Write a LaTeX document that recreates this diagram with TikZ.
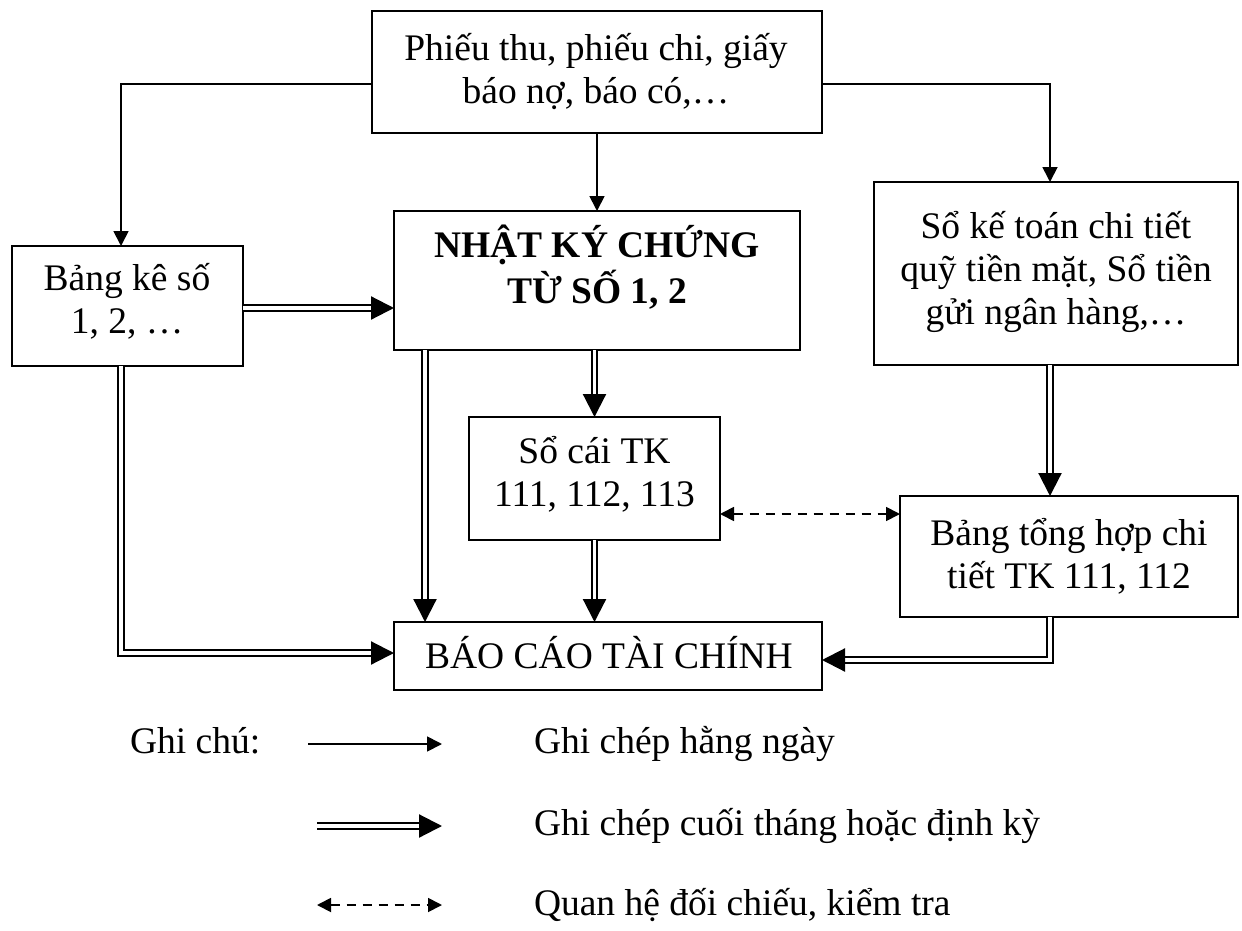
\documentclass[tikz,border=0pt]{standalone}
\usepackage{fontspec}
\setmainfont{Liberation Serif}
\usetikzlibrary{arrows.meta}
\newcommand{\mylines}[1]{\begin{tabular}[t]{@{}c@{}}#1\end{tabular}}
\begin{document}
\begin{tikzpicture}[x=1pt,y=1pt,
  box/.style={draw, rectangle, line width=2.6pt, inner sep=0pt, outer sep=0pt},
  txt/.style={inner sep=0pt, outer sep=0pt, font=\fontsize{37.5}{43}\selectfont},
  sline/.style={line width=1.8pt, -{Triangle[length=15pt,width=15pt]}},
  dline/.style={double=white, line width=2.2pt, double distance=3.4pt, -{Triangle[length=23pt,width=23pt]}},
  dashline/.style={line width=1.8pt, dash pattern=on 9pt off 7pt, {Triangle[length=14pt,width=14pt]}-{Triangle[length=14pt,width=14pt]}}
]
\useasboundingbox (0,0) rectangle (1242,-931);

% boxes
\node[box, minimum width=450pt, minimum height=122pt] (src) at (597,-72) {};
\node[box, minimum width=231pt, minimum height=120pt] (bk) at (127.5,-306) {};
\node[box, minimum width=406pt, minimum height=139pt] (nkct) at (597,-280.5) {};
\node[box, minimum width=364pt, minimum height=183pt] (sktct) at (1056,-273.5) {};
\node[box, minimum width=251pt, minimum height=123pt] (socai) at (594.5,-478.5) {};
\node[box, minimum width=338pt, minimum height=121pt] (btm) at (1069,-556.5) {};
\node[box, minimum width=428pt, minimum height=68pt] (bctc) at (608,-656) {};

% texts
\node[txt, anchor=base] (srcT) at (596,-61) {\mylines{Phiếu thu, phiếu chi, giấy\\báo nợ, báo có,…}};
\node[txt, anchor=base] (bkT) at (127,-290) {\mylines{Bảng kê số\\1, 2, …}};
\node[txt, anchor=base] (nkctT) at (597,-257) {\mylines{\bfseries NHẬT KÝ CHỨNG\\\bfseries TỪ SỐ 1, 2}};
\node[txt, anchor=base] (sktctT) at (1056,-238) {\mylines{Sổ kế toán chi tiết\\quỹ tiền mặt, Sổ tiền\\gửi ngân hàng,…}};
\node[txt, anchor=base] (socaiT) at (594.5,-463) {\mylines{Sổ cái TK\\111, 112, 113}};
\node[txt, anchor=base] (btmT) at (1069,-545) {\mylines{Bảng tổng hợp chi\\tiết TK 111, 112}};
\node[txt, anchor=base] (bctcT) at (609,-668) {BÁO CÁO TÀI CHÍNH};

% helper coordinates
\coordinate (cL) at (425,0);
\coordinate (cR) at (1050,0);

% daily (single) connectors
\draw[sline] ([yshift=-12pt]src.west) -| ([xshift=-6.5pt]bk.north);
\draw[sline] (src.south) -- (src.south |- nkct.north);
\draw[sline] ([yshift=-12pt]src.east) -| (cR |- sktct.north);

% periodic (double) connectors
\draw[dline] ([yshift=-2pt]bk.east) -- ([yshift=-2pt]bk.east -| nkct.west);
\draw[dline] (cL |- nkct.south) -- (cL |- bctc.north);
\draw[dline] (nkct.south -| socai.north) -- (socai.north);
\draw[dline] (socai.south) -- (socai.south |- bctc.north);
\draw[dline] ([xshift=-6.5pt]bk.south) |- ([yshift=3pt]bctc.west);
\draw[dline] (cR |- sktct.south) -- (cR |- btm.north);
\draw[dline] (cR |- btm.south) |- ([yshift=-4pt]bctc.east);

% check relation (dashed)
\draw[dashline] ([yshift=-35.5pt]socai.east) -- ([yshift=-35.5pt]socai.east -| btm.west);

% legend
\node[txt, anchor=base west] (gc) at (130,-753) {Ghi chú:};
\coordinate (l1a) at (308,-744);
\coordinate (l1b) at (442,-744);
\coordinate (l2a) at (317,-826);
\coordinate (l2b) at (442,-826);
\coordinate (l3a) at (317,-905);
\coordinate (l3b) at (442,-905);
\draw[sline] (l1a) -- (l1b);
\draw[dline] (l2a) -- (l2b);
\draw[dashline] (l3a) -- (l3b);
\node[txt, anchor=base west] (lg1) at (534,-753) {Ghi chép hằng ngày};
\node[txt, anchor=base west] (lg2) at (534,-835) {Ghi chép cuối tháng hoặc định kỳ};
\node[txt, anchor=base west] (lg3) at (534,-915) {Quan hệ đối chiếu, kiểm tra};
\end{tikzpicture}
\end{document}
